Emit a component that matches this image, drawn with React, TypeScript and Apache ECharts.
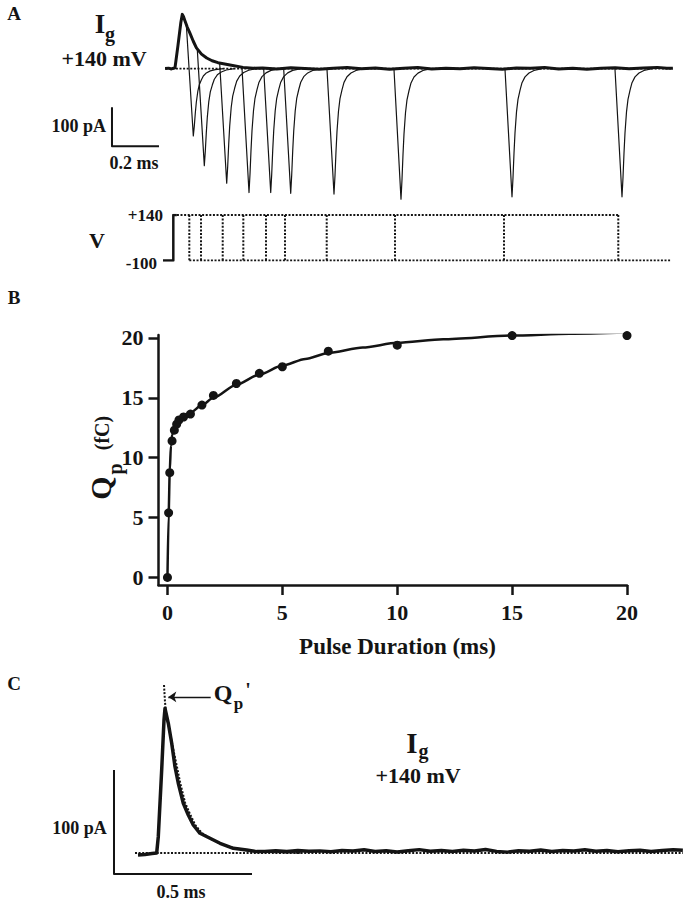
import React, { useEffect, useRef } from 'react';
import * as echarts from 'echarts';

// ---------- Panel A: gating currents at +140 mV (t in ms from pulse onset, I in pA)
const onCurrentT = [-0.035, -0.02, -0.008, 0.0072, 0.02, 0.032, 0.0383, 0.0435, 0.0498, 0.0596, 0.0711, 0.085, 0.0983, 0.12, 0.1421, 0.165, 0.1902, 0.2413, 0.2966, 0.34,
  0.38, 0.44, 0.5, 0.56, 0.62, 0.68, 0.74, 0.8, 0.86, 0.92, 0.98, 1.04, 1.1, 1.16, 1.22, 1.28, 1.34, 1.4, 1.46, 1.52, 1.58, 1.64, 1.7, 1.76, 1.82, 1.88, 1.94, 2.0, 2.06, 2.1, 2.126];
const onCurrentI = [0, 1, -1, 2, 60, 118, 139, 133, 122, 106, 90, 70, 53, 37, 27, 20, 15, 9, 3, 1,
  1.5, -1, 2, 0, -1.5, 1, 2.5, -0.5, 1.5, -1.5, 0.5, 2.5, -1, 1, -0.5, 2, 0, -2, 1.5, 0.5, 2.5, -1, 1, -1.5, 0.5, 2, -0.5, 1.5, 3, 0.5, 1];

// tail (OFF) currents: time of negative peak, peak amplitude, value where trace leaves the ON current
const tailTimes = [0.0851, 0.1319, 0.2272, 0.3221, 0.4145, 0.4996, 0.6838, 0.9689, 1.4413, 1.9094];
const tailPeaks = [-173, -249, -294, -318, -318, -320, -322, -335, -329, -329];
const tailBranch = [115, 50, 14, 3, 0, 0, 0, 0, 0, 0];
// shape of a tail current (ms after the peak, fraction of the peak)
const tailShapeDt = [0, 0.0043, 0.0085, 0.0128, 0.0191, 0.0255, 0.034, 0.0426, 0.0553, 0.0723, 0.0936, 0.128];
const tailShapeFrac = [1, 0.85, 0.66, 0.5, 0.34, 0.24, 0.17, 0.11, 0.065, 0.035, 0.015, 0];

// voltage protocol (mV) and pulse ends (ms)
const vHold = -100;
const vTest = 140;
const pulseEnds = [0.0681, 0.1179, 0.2102, 0.2979, 0.3945, 0.4753, 0.6528, 0.9434, 1.4072, 1.8936];
const protocolEnd = 2.114;

// ---------- Panel B: charge vs pulse duration
const pulseDurations = [0, 0.05, 0.1, 0.2, 0.3, 0.4, 0.5, 0.7, 1, 1.5, 2, 3, 4, 5, 7, 10, 15, 20];
const chargeQp = [0, 5.4, 8.75, 11.4, 12.3, 12.8, 13.15, 13.4, 13.65, 14.4, 15.2, 16.2, 17.05, 17.6, 18.9, 19.4, 20.2, 20.2];
const fitT = [0, 0.05, 0.1, 0.15, 0.2, 0.3, 0.5, 0.7, 1, 1.5, 2, 3, 4, 5, 6, 7, 8.5, 10, 12, 15, 17.5, 20];
const fitQ = [0, 5.2, 8.9, 11.0, 11.9, 12.5, 13.0, 13.3, 13.75, 14.4, 15.0, 16.1, 16.95, 17.7, 18.25, 18.75, 19.2, 19.6, 19.9, 20.2, 20.35, 20.45];
const xTicksB = [0, 5, 10, 15, 20];
const yTicksB = [0, 5, 10, 15, 20];

// ---------- Panel C: single ON gating current with exponential fit
const traceCT = [0.0109, 0.0362, 0.0616, 0.0786, 0.0844, 0.0967, 0.1051, 0.1087, 0.1207, 0.133, 0.1449, 0.1569, 0.175, 0.1931, 0.2112, 0.2355, 0.2717, 0.308, 0.3562, 0.4047, 0.4409,
  0.47, 0.51, 0.55, 0.59, 0.63, 0.67, 0.71, 0.75, 0.79, 0.83, 0.87, 0.91, 0.95, 0.99, 1.03, 1.07, 1.11, 1.15, 1.19, 1.23, 1.27, 1.31, 1.35, 1.39, 1.43, 1.47, 1.51, 1.55, 1.59, 1.63, 1.67, 1.71, 1.75, 1.79, 1.83, 1.87, 1.91, 1.95, 1.985];
const traceCI = [-1.9, -1.4, -0.5, 0, 15.7, 79.8, 127.9, 139.1, 124.7, 105.5, 83, 67, 47.8, 36.5, 26.9, 18.9, 14.1, 9.3, 4.5, 2.9, 1.3,
  1.5, 2.2, 1.4, 2.4, 1.6, 2.0, 1.2, 2.3, 1.8, 3.0, 1.5, 2.1, 1.0, 2.2, 3.2, 1.6, 2.4, 1.3, 2.6, 1.9, 3.3, 1.5, 0.8, 2.2, 1.7, 2.9, 1.4, 2.3, 1.8, 3.1, 1.6, 2.4, 1.2, 2.2, 2.7, 1.5, 2.3, 3.0, 2.6];
const fitCT = [0.1051, 0.1087, 0.1125, 0.127, 0.14, 0.152, 0.164, 0.182, 0.2, 0.218, 0.243, 0.278, 0.315, 0.36, 0.41, 0.47, 0.6];
const fitCI = [161.5, 145, 135, 115, 98, 83, 67, 48, 37, 27, 19, 13, 8.5, 4.5, 2.5, 1, 0.2];
const qpPrimeLevel = 150;

const INK = '#141414';
const FONT = "'Liberation Serif', 'Times New Roman', serif";

const pairs = (xs: number[], ys: number[]) => xs.map((x, i) => [x, ys[i]]);

function txt(text: string, x: number, y: number, size: number, extra: any = {}) {
  const { align = 'center', rotation = 0 } = extra;
  return {
    type: 'text',
    x,
    y,
    rotation,
    silent: true,
    style: {
      text,
      fill: INK,
      fontFamily: FONT,
      fontWeight: 'bold',
      fontSize: size,
      align,
      verticalAlign: 'middle',
    },
  };
}

function lineSeries(gi: number, data: number[][], lineStyle: any, extra: any = {}) {
  return {
    type: 'line',
    xAxisIndex: gi,
    yAxisIndex: gi,
    data,
    symbol: 'none',
    silent: true,
    lineStyle: { color: INK, join: 'round', ...lineStyle },
    ...extra,
  };
}

function buildOption() {
  const dotted = { type: [2, 1.6], width: 2 };
  const tails = tailTimes.map((tm, i) => {
    const pts: number[][] = [[tm - 0.03, tailBranch[i]]];
    tailShapeDt.forEach((d, k) => pts.push([tm + d, tailPeaks[i] * tailShapeFrac[k]]));
    return lineSeries(0, pts, { width: 1.2 });
  });

  const hiddenX = (gi: number, min: number, max: number) => ({ type: 'value', gridIndex: gi, min, max, show: false });
  const hiddenY = (gi: number, min: number, max: number) => ({ type: 'value', gridIndex: gi, min, max, show: false });

  const axisText = { fontFamily: FONT, fontWeight: 'bold', fontSize: 22, color: INK };

  return {
    animation: false,
    backgroundColor: '#ffffff',
    grid: [
      { left: 100, top: 5, width: 583, height: 200 },
      { left: 100, top: 215, width: 583, height: 45.5 },
      { left: 158.5, top: 335, width: 468.5, height: 250 },
      { left: 100, top: 680, width: 583, height: 200 },
    ],
    xAxis: [
      hiddenX(0, -0.312, 2.169),
      hiddenX(1, -0.312, 2.169),
      {
        type: 'value', gridIndex: 2, min: -0.39, max: 20,
        axisLine: { show: true, onZero: false, lineStyle: { color: INK, width: 2.5 } },
        axisTick: { show: true, customValues: xTicksB, length: 10, lineStyle: { color: INK, width: 2.5 } },
        axisLabel: { customValues: xTicksB, margin: 16, ...axisText },
        splitLine: { show: false },
      },
      hiddenX(3, -0.1268, 1.9855),
    ],
    yAxis: [
      hiddenY(0, -350, 163),
      hiddenY(1, vHold, vTest),
      {
        type: 'value', gridIndex: 2, min: -0.63, max: 20.25,
        axisLine: { show: true, onZero: false, lineStyle: { color: INK, width: 2.5 } },
        axisTick: { show: true, customValues: yTicksB, length: 10, lineStyle: { color: INK, width: 2.5 } },
        axisLabel: { customValues: yTicksB, margin: 15, ...axisText },
        splitLine: { show: false },
      },
      hiddenY(3, -26, 166.3),
    ],
    series: [
      // ----- A
      lineSeries(0, [[onCurrentT[0], 0], [onCurrentT[onCurrentT.length - 1], 0]], { ...dotted, width: 1.8 }),
      ...tails,
      lineSeries(0, pairs(onCurrentT, onCurrentI), { width: 3 }),
      lineSeries(0, [[-0.261, -99], [-0.261, -199], [-0.061, -199]], { width: 2 }),
      // ----- V protocol
      lineSeries(1, [[-0.044, vHold], [0, vHold], [0, vTest], [0.015, vTest]], { width: 2.5 }),
      lineSeries(1, [[0, vTest], [pulseEnds[pulseEnds.length - 1], vTest]], dotted),
      lineSeries(1, [[pulseEnds[0], vHold], [protocolEnd, vHold]], dotted),
      ...pulseEnds.map((te) => lineSeries(1, [[te, vTest], [te, vHold]], dotted)),
      // ----- B
      lineSeries(2, pairs(fitT, fitQ), { width: 2.5 }, { smooth: 0.25, smoothMonotone: 'x' }),
      {
        type: 'scatter', xAxisIndex: 2, yAxisIndex: 2, silent: true,
        data: pairs(pulseDurations, chargeQp), symbol: 'circle', symbolSize: 9,
        itemStyle: { color: INK, opacity: 1 },
      },
      // ----- C
      lineSeries(3, [[0, 0], [traceCT[traceCT.length - 1], 0]], dotted),
      lineSeries(3, pairs(fitCT, fitCI), dotted),
      lineSeries(3, pairs(traceCT, traceCI), { width: 3.5 }, {
        markLine: {
          silent: true, symbol: ['arrow', 'none'], symbolSize: 8,
          label: { show: false },
          lineStyle: { color: INK, width: 1.3, type: 'solid' },
          data: [[{ coord: [0.1207, qpPrimeLevel] }, { coord: [0.2743, qpPrimeLevel] }]],
        },
      }),
      lineSeries(3, [[-0.0761, 79.8], [-0.0761, -20.2], [0.4239, -20.2]], { width: 2 }),
    ],
    graphic: [
      txt('A', 14, 13, 19),
      txt('I', 100, 23.6, 27),
      txt('g', 110, 33.5, 20),
      txt('+140 mV', 104, 58.4, 22),
      txt('100 pA', 106, 126.3, 18, { align: 'right' }),
      txt('0.2 ms', 134, 163, 18),
      txt('V', 97, 240, 22),
      txt('+140', 163, 215, 17, { align: 'right' }),
      txt('-100', 157, 263, 17, { align: 'right' }),
      txt('B', 14, 297, 19),
      txt('Q', 100, 488, 30, { rotation: Math.PI / 2 }),
      txt('p', 115, 469, 20, { rotation: Math.PI / 2 }),
      txt('(fC)', 102, 433, 20, { rotation: Math.PI / 2 }),
      txt('Pulse Duration (ms)', 397.5, 646, 23),
      txt('C', 14, 683, 19),
      txt('Q', 223, 693, 24),
      txt('p', 238.5, 703, 17),
      txt("'", 248, 690, 20),
      txt('I', 412, 742.5, 29),
      txt('g', 423.5, 751, 20),
      txt('+140 mV', 418, 775, 22),
      txt('100 pA', 106.7, 827.6, 18, { align: 'right' }),
      txt('0.5 ms', 181, 891.5, 18),
    ],
  };
}

export default function App() {
  const ref = useRef<HTMLDivElement>(null);
  useEffect(() => {
    const chart = echarts.init(ref.current as HTMLDivElement, null, { renderer: 'svg' });
    chart.setOption(buildOption() as any);
    return () => chart.dispose();
  }, []);
  return (
    <div
      ref={ref}
      style={{ position: 'absolute', left: 0, top: 0, width: 687, height: 900, background: '#fff' }}
    />
  );
}
